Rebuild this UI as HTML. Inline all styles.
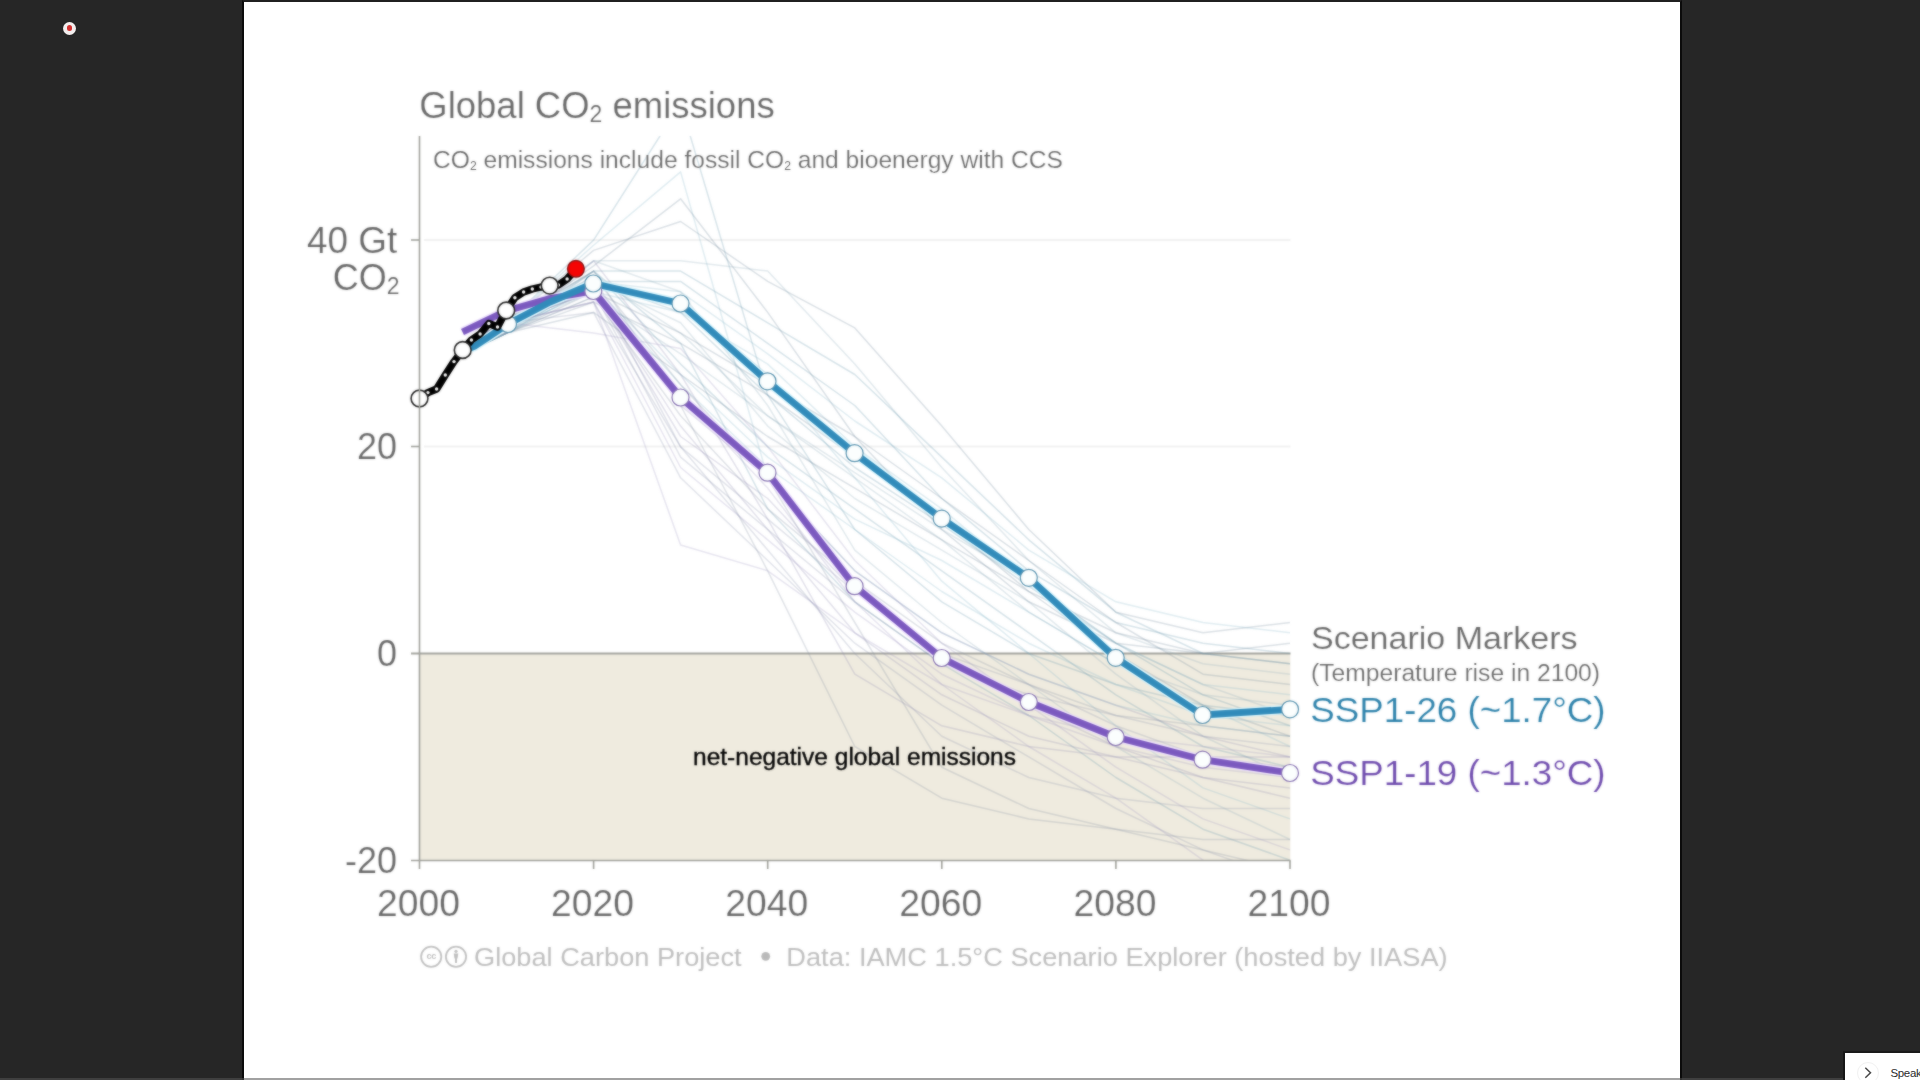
<!DOCTYPE html>
<html lang="en">
<head>
<meta charset="utf-8">
<title>Global CO2 emissions</title>
<style>
html,body{margin:0;padding:0;}
body{width:1920px;height:1080px;overflow:hidden;background:#262626;position:relative;font-family:"Liberation Sans", "DejaVu Sans", sans-serif;}
#slide{position:absolute;left:242px;top:0;width:1436px;height:1080px;background:#fff;border-left:2px solid #0b0b0b;border-right:2px solid #0b0b0b;border-top:2px solid #202020;}
#chart{position:absolute;left:0;top:0;width:1920px;height:1080px;}
#rec{position:absolute;left:63px;top:21.5px;width:13px;height:13px;border-radius:50%;background:#f3eeee;}
#rec i{position:absolute;left:3.6px;top:3.6px;width:5.8px;height:5.8px;border-radius:50%;background:#d23030;}
#bottombar{position:absolute;left:0;top:1078px;width:1920px;height:2px;background:rgba(83,83,83,0.55);}
#notes{position:absolute;left:1845px;top:1053px;width:75px;height:27px;background:#fff;border-left:2px solid #161616;border-top:2px solid #1a1a1a;margin:-2px 0 0 -2px;overflow:hidden;white-space:nowrap;}
#notes .c{position:absolute;left:11.5px;top:8.5px;width:22px;height:22px;border-radius:50%;border:1px solid #f1f1f1;box-sizing:border-box;}
#notes svg{position:absolute;left:0;top:0;}
#notes span{position:absolute;left:45.5px;top:13px;font-size:11.5px;line-height:14px;color:#2b2b2b;letter-spacing:-0.35px;}
</style>
</head>
<body>
<div id="slide"></div>
<svg id="chart" width="1920" height="1080" viewBox="0 0 1920 1080">
<defs><clipPath id="plotclip"><rect x="420" y="136" width="870.5" height="724.5"/></clipPath><filter id="soft" x="244" y="0" width="1436" height="1080" filterUnits="userSpaceOnUse" color-interpolation-filters="sRGB"><feGaussianBlur stdDeviation="0.85" result="b"/><feComposite in="SourceGraphic" in2="b" operator="arithmetic" k1="0" k2="0.45" k3="0.55" k4="0"/></filter></defs>
<g filter="url(#soft)">
<rect x="420" y="654" width="870.3" height="206.5" fill="#efebdf"/>
<line x1="424" y1="240" x2="1290.5" y2="240" stroke="#f1f1f1" stroke-width="2"/>
<line x1="424" y1="446.5" x2="1290.5" y2="446.5" stroke="#f1f1f1" stroke-width="2"/>
<line x1="411" y1="653.5" x2="1290.5" y2="653.5" stroke="#a3a49e" stroke-width="1.8"/>
<g clip-path="url(#plotclip)" fill="none" stroke-width="1.5" stroke-opacity="0.25" stroke-linejoin="round">
<polyline points="463.0,353.8 506.6,322.8 593.6,240.1 680.6,103.7 767.7,395.1 854.8,529.5 941.8,601.8 1028.8,653.5 1115.9,684.5 1203.0,705.2 1290.0,715.5" stroke="#5d8ea8"/>
<polyline points="463.0,353.8 506.6,322.8 593.6,245.3 680.6,171.9 767.7,477.8 854.8,570.8 941.8,632.8 1028.8,674.2 1115.9,705.2 1203.0,725.8 1290.0,736.2" stroke="#7fb2c6"/>
<polyline points="463.0,353.8 506.6,322.8 593.6,250.4 680.6,221.5 767.7,281.4 854.8,327.9 941.8,426.1 1028.8,529.5 1115.9,612.2 1203.0,632.8 1290.0,622.5" stroke="#6a8597"/>
<polyline points="463.0,353.8 506.6,322.8 593.6,260.8 680.6,260.8 767.7,271.1 854.8,364.1 941.8,467.5 1028.8,560.5 1115.9,632.8 1203.0,663.8 1290.0,674.2" stroke="#86a6b6"/>
<polyline points="463.0,353.8 506.6,327.9 593.6,281.4 680.6,281.4 767.7,343.4 854.8,405.5 941.8,498.5 1028.8,570.8 1115.9,622.5 1203.0,643.2 1290.0,653.5" stroke="#5d8ea8"/>
<polyline points="463.0,353.8 506.6,327.9 593.6,291.8 680.6,312.4 767.7,364.1 854.8,446.8 941.8,508.8 1028.8,581.2 1115.9,643.2 1203.0,684.5 1290.0,694.8" stroke="#7fb2c6"/>
<polyline points="463.0,353.8 506.6,333.1 593.6,302.1 680.6,343.4 767.7,395.1 854.8,457.1 941.8,519.1 1028.8,591.5 1115.9,653.5 1203.0,705.2 1290.0,736.2" stroke="#6a8597"/>
<polyline points="463.0,353.8 506.6,333.1 593.6,281.4 680.6,322.8 767.7,426.1 854.8,498.5 941.8,550.1 1028.8,601.8 1115.9,674.2 1203.0,736.2 1290.0,777.5" stroke="#86a6b6"/>
<polyline points="463.0,353.8 506.6,333.1 593.6,271.1 680.6,364.1 767.7,446.8 854.8,508.8 941.8,570.8 1028.8,632.8 1115.9,694.8 1203.0,746.5 1290.0,767.2" stroke="#5d8ea8"/>
<polyline points="463.0,353.8 506.6,333.1 593.6,286.6 680.6,384.8 767.7,467.5 854.8,529.5 941.8,591.5 1028.8,643.2 1115.9,684.5 1203.0,715.5 1290.0,725.8" stroke="#7fb2c6"/>
<polyline points="463.0,353.8 506.6,333.1 593.6,312.4 680.6,374.5 767.7,436.5 854.8,488.1 941.8,539.8 1028.8,591.5 1115.9,632.8 1203.0,653.5 1290.0,663.8" stroke="#6a8597"/>
<polyline points="463.0,353.8 506.6,327.9 593.6,260.8 680.6,291.8 767.7,405.5 854.8,550.1 941.8,622.5 1028.8,684.5 1115.9,746.5 1203.0,798.2 1290.0,839.5" stroke="#86a6b6"/>
<polyline points="463.0,353.8 506.6,322.8 593.6,271.1 680.6,343.4 767.7,508.8 854.8,601.8 941.8,663.8 1028.8,715.5 1115.9,777.5 1203.0,829.2 1290.0,860.2" stroke="#5d8ea8"/>
<polyline points="463.0,353.8 506.6,322.8 593.6,281.4 680.6,302.1 767.7,374.5 854.8,477.8 941.8,581.2 1028.8,653.5 1115.9,725.8 1203.0,787.9 1290.0,818.9" stroke="#7fb2c6"/>
<polyline points="463.0,353.8 506.6,327.9 593.6,265.9 680.6,198.8 767.7,312.4 854.8,436.5 941.8,529.5 1028.8,601.8 1115.9,643.2 1203.0,653.5 1290.0,643.2" stroke="#6a8597"/>
<polyline points="463.0,353.8 506.6,327.9 593.6,276.3 680.6,333.1 767.7,415.8 854.8,477.8 941.8,539.8 1028.8,612.2 1115.9,663.8 1203.0,694.8 1290.0,705.2" stroke="#86a6b6"/>
<polyline points="463.0,353.8 506.6,327.9 593.6,271.1 680.6,271.1 767.7,322.8 854.8,374.5 941.8,457.1 1028.8,539.8 1115.9,612.2 1203.0,653.5 1290.0,663.8" stroke="#5d8ea8"/>
<polyline points="463.0,353.8 506.6,327.9 593.6,281.4 680.6,291.8 767.7,353.8 854.8,421.0 941.8,477.8 1028.8,550.1 1115.9,601.8 1203.0,622.5 1290.0,632.8" stroke="#7fb2c6"/>
<polyline points="463.0,353.8 506.6,333.1 593.6,291.8 680.6,333.1 767.7,384.8 854.8,436.5 941.8,498.5 1028.8,560.5 1115.9,622.5 1203.0,674.2 1290.0,684.5" stroke="#6a8597"/>
<polyline points="463.0,353.8 506.6,333.1 593.6,296.9 680.6,353.8 767.7,415.8 854.8,472.6 941.8,529.5 1028.8,581.2 1115.9,643.2 1203.0,684.5 1290.0,715.5" stroke="#86a6b6"/>
<polyline points="463.0,353.8 506.6,333.1 593.6,281.4 680.6,312.4 767.7,395.1 854.8,467.5 941.8,524.3 1028.8,586.3 1115.9,643.2 1203.0,694.8 1290.0,725.8" stroke="#5d8ea8"/>
<polyline points="463.0,353.8 506.6,333.1 593.6,286.6 680.6,374.5 767.7,457.1 854.8,519.1 941.8,560.5 1028.8,612.2 1115.9,663.8 1203.0,705.2 1290.0,746.5" stroke="#7fb2c6"/>
<polyline points="463.0,343.4 506.6,322.8 593.6,291.8 680.6,426.1 767.7,529.5 854.8,632.8 941.8,694.8 1028.8,736.2 1115.9,756.9 1203.0,777.5 1290.0,787.9" stroke="#8d86b0"/>
<polyline points="463.0,343.4 506.6,322.8 593.6,281.4 680.6,446.8 767.7,550.1 854.8,653.5 941.8,736.2 1028.8,777.5 1115.9,798.2 1203.0,808.5 1290.0,808.5" stroke="#8891ab"/>
<polyline points="463.0,343.4 506.6,322.8 593.6,302.1 680.6,467.5 767.7,539.8 854.8,612.2 941.8,674.2 1028.8,715.5 1115.9,746.5 1203.0,767.2 1290.0,777.5" stroke="#9c94c0"/>
<polyline points="463.0,343.4 506.6,322.8 593.6,271.1 680.6,405.5 767.7,570.8 854.8,746.5 941.8,798.2 1028.8,818.9 1115.9,829.2 1203.0,839.5 1290.0,839.5" stroke="#808aa0"/>
<polyline points="463.0,343.4 506.6,322.8 593.6,291.8 680.6,436.5 767.7,498.5 854.8,591.5 941.8,653.5 1028.8,705.2 1115.9,746.5 1203.0,777.5 1290.0,798.2" stroke="#8d86b0"/>
<polyline points="463.0,343.4 506.6,322.8 593.6,312.4 680.6,477.8 767.7,560.5 854.8,643.2 941.8,705.2 1028.8,756.9 1115.9,808.5 1203.0,849.9 1290.0,880.9" stroke="#8891ab"/>
<polyline points="463.0,343.4 506.6,322.8 593.6,281.4 680.6,395.1 767.7,488.1 854.8,601.8 941.8,684.5 1028.8,746.5 1115.9,798.2 1203.0,860.2 1290.0,911.9" stroke="#9c94c0"/>
<polyline points="463.0,343.4 506.6,333.1 593.6,296.9 680.6,415.8 767.7,508.8 854.8,581.2 941.8,643.2 1028.8,684.5 1115.9,715.5 1203.0,725.8 1290.0,736.2" stroke="#808aa0"/>
<polyline points="463.0,343.4 506.6,333.1 593.6,260.8 680.6,374.5 767.7,519.1 854.8,674.2 941.8,725.8 1028.8,746.5 1115.9,756.9 1203.0,756.9 1290.0,756.9" stroke="#8d86b0"/>
<polyline points="463.0,343.4 506.6,322.8 593.6,291.8 680.6,457.1 767.7,529.5 854.8,601.8 941.8,663.8 1028.8,694.8 1115.9,715.5 1203.0,736.2 1290.0,746.5" stroke="#8891ab"/>
<polyline points="463.0,343.4 506.6,322.8 593.6,333.1 680.6,348.6 767.7,446.8 854.8,560.5 941.8,643.2 1028.8,705.2 1115.9,767.2 1203.0,818.9 1290.0,849.9" stroke="#9c94c0"/>
<polyline points="463.0,343.4 506.6,322.8 593.6,276.3 680.6,384.8 767.7,477.8 854.8,622.5 941.8,767.2 1028.8,808.5 1115.9,829.2 1203.0,849.9 1290.0,870.5" stroke="#808aa0"/>
<polyline points="463.0,343.4 506.6,322.8 593.6,286.6 680.6,405.5 767.7,477.8 854.8,570.8 941.8,632.8 1028.8,674.2 1115.9,705.2 1203.0,736.2 1290.0,756.9" stroke="#8d86b0"/>
<polyline points="463.0,343.4 506.6,322.8 593.6,302.1 680.6,446.8 767.7,519.1 854.8,591.5 941.8,653.5 1028.8,684.5 1115.9,725.8 1203.0,756.9 1290.0,767.2" stroke="#8891ab"/>
<polyline points="463.0,343.4 506.6,322.8 593.6,302.1 680.6,545.0 767.7,570.8 854.8,632.8 941.8,684.5 1028.8,715.5 1115.9,736.2 1203.0,746.5 1290.0,756.9" stroke="#9c94c0"/>
</g>
<polyline points="462.5,332.0 506.0,311.0 550.0,298.5 593.3,291.0 680.5,397.5 767.5,472.7 854.6,586.2 941.7,658.0 1028.8,702.0 1115.7,737.0 1202.6,759.7 1290.0,773.0" fill="none" stroke="#efe3ff" stroke-width="9.6" stroke-linejoin="round" stroke-opacity="0.85"/>
<polyline points="462.5,351.0 475.0,346.0 508.0,324.0 550.0,302.0 593.3,283.5 680.5,303.5 767.5,381.3 854.6,453.2 941.7,518.6 1028.8,577.8 1115.7,657.8 1202.6,715.0 1290.0,709.3" fill="none" stroke="#dcf8ff" stroke-width="9.6" stroke-linejoin="round" stroke-opacity="0.85"/>
<polyline points="462.5,332.0 506.0,311.0 550.0,298.5 593.3,291.0 680.5,397.5 767.5,472.7 854.6,586.2 941.7,658.0 1028.8,702.0 1115.7,737.0 1202.6,759.7 1290.0,773.0" fill="none" stroke="#7b59bf" stroke-width="6.8" stroke-linejoin="round"/>
<polyline points="462.5,351.0 475.0,346.0 508.0,324.0 550.0,302.0 593.3,283.5 680.5,303.5 767.5,381.3 854.6,453.2 941.7,518.6 1028.8,577.8 1115.7,657.8 1202.6,715.0 1290.0,709.3" fill="none" stroke="#318bba" stroke-width="6.8" stroke-linejoin="round"/>
<circle cx="593.3" cy="291.0" r="8.5" fill="#fbfefe" stroke="#8570b0" stroke-width="1.2"/>
<circle cx="680.5" cy="397.5" r="8.5" fill="#fbfefe" stroke="#8570b0" stroke-width="1.2"/>
<circle cx="767.5" cy="472.7" r="8.5" fill="#fbfefe" stroke="#8570b0" stroke-width="1.2"/>
<circle cx="854.6" cy="586.2" r="8.5" fill="#fbfefe" stroke="#8570b0" stroke-width="1.2"/>
<circle cx="941.7" cy="658.0" r="8.5" fill="#fbfefe" stroke="#8570b0" stroke-width="1.2"/>
<circle cx="1028.8" cy="702.0" r="8.5" fill="#fbfefe" stroke="#8570b0" stroke-width="1.2"/>
<circle cx="1115.7" cy="737.0" r="8.5" fill="#fbfefe" stroke="#8570b0" stroke-width="1.2"/>
<circle cx="1202.6" cy="759.7" r="8.5" fill="#fbfefe" stroke="#8570b0" stroke-width="1.2"/>
<circle cx="1290.0" cy="773.0" r="8.5" fill="#fbfefe" stroke="#8570b0" stroke-width="1.2"/>
<circle cx="508.0" cy="324.0" r="8.5" fill="#fbfefe" stroke="#5590ad" stroke-width="1.2"/>
<circle cx="593.3" cy="283.5" r="8.5" fill="#fbfefe" stroke="#5590ad" stroke-width="1.2"/>
<circle cx="680.5" cy="303.5" r="8.5" fill="#fbfefe" stroke="#5590ad" stroke-width="1.2"/>
<circle cx="767.5" cy="381.3" r="8.5" fill="#fbfefe" stroke="#5590ad" stroke-width="1.2"/>
<circle cx="854.6" cy="453.2" r="8.5" fill="#fbfefe" stroke="#5590ad" stroke-width="1.2"/>
<circle cx="941.7" cy="518.6" r="8.5" fill="#fbfefe" stroke="#5590ad" stroke-width="1.2"/>
<circle cx="1028.8" cy="577.8" r="8.5" fill="#fbfefe" stroke="#5590ad" stroke-width="1.2"/>
<circle cx="1115.7" cy="657.8" r="8.5" fill="#fbfefe" stroke="#5590ad" stroke-width="1.2"/>
<circle cx="1202.6" cy="715.0" r="8.5" fill="#fbfefe" stroke="#5590ad" stroke-width="1.2"/>
<circle cx="1290.0" cy="709.3" r="8.5" fill="#fbfefe" stroke="#5590ad" stroke-width="1.2"/>
<polyline points="419.5,398.5 427.9,392.6 436.6,389.0 445.3,375.0 454.0,361.6 462.7,350.0 471.4,340.0 480.1,334.0 488.8,323.5 497.5,327.0 506.2,310.5 514.9,297.7 523.6,292.0 532.3,289.0 541.0,287.0 549.7,285.6 558.4,285.0 567.1,279.0 575.9,268.8" fill="none" stroke="#000" stroke-width="7.4" stroke-linejoin="round" stroke-linecap="round"/>
<circle cx="427.9" cy="392.6" r="1.7" fill="#fff"/>
<circle cx="436.6" cy="389.0" r="1.7" fill="#fff"/>
<circle cx="445.3" cy="375.0" r="1.7" fill="#fff"/>
<circle cx="454.0" cy="361.6" r="1.7" fill="#fff"/>
<circle cx="471.4" cy="340.0" r="1.7" fill="#fff"/>
<circle cx="480.1" cy="334.0" r="1.7" fill="#fff"/>
<circle cx="488.8" cy="323.5" r="1.7" fill="#fff"/>
<circle cx="497.5" cy="327.0" r="1.7" fill="#fff"/>
<circle cx="514.9" cy="297.7" r="1.7" fill="#fff"/>
<circle cx="523.6" cy="292.0" r="1.7" fill="#fff"/>
<circle cx="532.3" cy="289.0" r="1.7" fill="#fff"/>
<circle cx="541.0" cy="287.0" r="1.7" fill="#fff"/>
<circle cx="558.4" cy="285.0" r="1.7" fill="#fff"/>
<circle cx="567.1" cy="279.0" r="1.7" fill="#fff"/>
<circle cx="419.5" cy="398.5" r="8.4" fill="#fff" stroke="#222" stroke-width="1.6"/>
<circle cx="462.7" cy="350.0" r="8.4" fill="#fff" stroke="#222" stroke-width="1.6"/>
<circle cx="506.2" cy="310.5" r="8.4" fill="#fff" stroke="#222" stroke-width="1.6"/>
<circle cx="549.7" cy="285.6" r="8.4" fill="#fff" stroke="#222" stroke-width="1.6"/>
<circle cx="575.9" cy="268.8" r="8.3" fill="#f50404" stroke="#8c0d0d" stroke-width="1.5"/>
<g stroke="#9fa09a" stroke-width="1.6" fill="none">
<line x1="419.5" y1="136" x2="419.5" y2="869"/>
<line x1="411" y1="860.5" x2="1290.5" y2="860.5"/>
<line x1="411" y1="240" x2="419.5" y2="240"/>
<line x1="411" y1="446.5" x2="419.5" y2="446.5"/>
<line x1="593.6" y1="860.5" x2="593.6" y2="869"/>
<line x1="767.7" y1="860.5" x2="767.7" y2="869"/>
<line x1="941.8" y1="860.5" x2="941.8" y2="869"/>
<line x1="1115.9" y1="860.5" x2="1115.9" y2="869"/>
<line x1="1290.0" y1="860.5" x2="1290.0" y2="869"/>
</g>
<g font-family='"Liberation Sans", "DejaVu Sans", sans-serif' fill="#696969" stroke="#fff" stroke-width="0.2">
<text x="419.3" y="118.4" font-size="36.5" textLength="355.4" lengthAdjust="spacingAndGlyphs">Global CO<tspan font-size="23" dy="4">2</tspan><tspan dy="-4"> emissions</tspan></text>
<text x="433" y="168" font-size="24.4" textLength="630" lengthAdjust="spacingAndGlyphs">CO<tspan font-size="12" dy="2" stroke="none">2</tspan><tspan dy="-2"> emissions include fossil CO</tspan><tspan font-size="12" dy="2" stroke="none">2</tspan><tspan dy="-2"> and bioenergy with CCS</tspan></text>
<text x="397.2" y="252.7" font-size="36" text-anchor="end" textLength="90.2" lengthAdjust="spacingAndGlyphs">40 Gt</text>
<text x="399.5" y="290" font-size="36" text-anchor="end">CO<tspan font-size="23" dy="3.6">2</tspan></text>
<text x="397" y="459.2" font-size="36" text-anchor="end">20</text>
<text x="397" y="666.2" font-size="36" text-anchor="end">0</text>
<text x="397" y="873.2" font-size="36" text-anchor="end">-20</text>
<text x="418.5" y="916" font-size="36" text-anchor="middle" textLength="83" lengthAdjust="spacingAndGlyphs">2000</text>
<text x="592.6" y="916" font-size="36" text-anchor="middle" textLength="83" lengthAdjust="spacingAndGlyphs">2020</text>
<text x="766.7" y="916" font-size="36" text-anchor="middle" textLength="83" lengthAdjust="spacingAndGlyphs">2040</text>
<text x="940.8" y="916" font-size="36" text-anchor="middle" textLength="83" lengthAdjust="spacingAndGlyphs">2060</text>
<text x="1114.9" y="916" font-size="36" text-anchor="middle" textLength="83" lengthAdjust="spacingAndGlyphs">2080</text>
<text x="1289.0" y="916" font-size="36" text-anchor="middle" textLength="83" lengthAdjust="spacingAndGlyphs">2100</text>
<text x="1311" y="648.7" font-size="31.5" textLength="266.5" lengthAdjust="spacingAndGlyphs">Scenario Markers</text>
<text x="1311" y="680.7" font-size="23.3" textLength="289" lengthAdjust="spacingAndGlyphs">(Temperature rise in 2100)</text>
</g>
<text x="1310.3" y="721.5" font-family='"Liberation Sans", "DejaVu Sans", sans-serif' font-size="34.5" fill="#2d82ab" stroke="#fff" stroke-width="0.2" textLength="295.3" lengthAdjust="spacingAndGlyphs">SSP1-26 (~1.7°C)</text>
<text x="1310.3" y="784.7" font-family='"Liberation Sans", "DejaVu Sans", sans-serif' font-size="34.5" fill="#6f4cae" stroke="#fff" stroke-width="0.2" textLength="295.3" lengthAdjust="spacingAndGlyphs">SSP1-19 (~1.3°C)</text>
<text x="693" y="765" font-family='"Liberation Sans", "DejaVu Sans", sans-serif' font-size="24.4" fill="#000" stroke="#000" stroke-width="0.35" textLength="323" lengthAdjust="spacingAndGlyphs">net-negative global emissions</text>
<g font-family='"Liberation Sans", "DejaVu Sans", sans-serif' fill="#bfbfbf" font-size="25.5">
<circle cx="431.2" cy="956.7" r="10.1" fill="none" stroke="#c0c0c0" stroke-width="1.8"/>
<text x="431.2" y="959.2" font-size="9.2" font-weight="bold" text-anchor="middle" letter-spacing="-0.5">cc</text>
<circle cx="456" cy="956.7" r="10.1" fill="none" stroke="#c0c0c0" stroke-width="1.8"/>
<circle cx="456" cy="951.3" r="1.6"/>
<path d="M453.7 953.6h4.6l-.8 5h-.5v4.4h-2v-4.4h-.5z"/>
<text x="474" y="965.8" textLength="267.6" lengthAdjust="spacingAndGlyphs">Global Carbon Project</text>
<circle cx="765.7" cy="956.3" r="4.4" fill="#b9b9b9"/>
<text x="786.3" y="965.8" textLength="661.3" lengthAdjust="spacingAndGlyphs">Data: IAMC 1.5°C Scenario Explorer (hosted by IIASA)</text>
</g>
</g>
</svg>
<div id="rec"><i></i></div>
<div id="bottombar"></div>
<div id="notes"><div class="c"></div><svg width="75" height="27" viewBox="0 0 75 27"><path d="M20.3 14.8l5.2 5-5.2 5" fill="none" stroke="#4a4a4a" stroke-width="1.5"/></svg><span>Speaker notes</span></div>
</body>
</html>
